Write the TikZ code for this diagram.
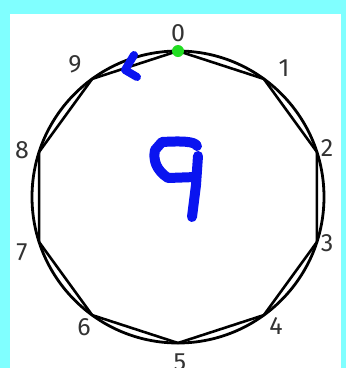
\documentclass[tikz,border=0pt]{standalone}
\usepackage{fontspec}
\setmainfont{Fira Sans}
\usetikzlibrary{calc}
\definecolor{bgcyan}{HTML}{80FFFF}
\definecolor{inkblue}{HTML}{0A14F0}
\definecolor{dotgreen}{HTML}{22DD22}
\definecolor{labgray}{HTML}{333333}
\begin{document}
\begin{tikzpicture}[x=1pt,y=-1pt,
  lab/.style={text=labgray,font=\fontsize{25}{25}\selectfont,inner sep=0pt},
  ink/.style={draw=inkblue,line cap=round,line join=round}]
\fill[bgcyan] (0,0) rectangle (346,368);
\fill[white] (10,14) rectangle (341,368);
\useasboundingbox (0,0) rectangle (346,368);
\coordinate (c) at (178,197);
\draw[line width=2.8pt] (c) circle[radius=146];
\foreach \k in {0,...,9}{
  \coordinate (v\k) at ($(c)+({90-36*\k}:146 and -146)$);
}
\draw[line width=2.6pt,line join=round] (v0)--(v1)--(v2)--(v3)--(v4)--(v5)--(v6)--(v7)--(v8)--(v9)--cycle;
\node[lab] (l0) at (178,33) {0};
\node[lab] (l1) at (284,68) {1};
\node[lab] (l2) at (327,148) {2};
\node[lab] (l3) at (327,243) {3};
\node[lab] (l4) at (276,326) {4};
\node[lab] (l5) at (180,362) {5};
\node[lab] (l6) at (84,327) {6};
\node[lab] (l7) at (22,252) {7};
\node[lab] (l8) at (22,150) {8};
\node[lab] (l9) at (75,64) {9};
\fill[dotgreen] (v0) circle[radius=6];
\draw[ink,line width=8pt] (134,55) -- (125,70) -- (137,77);
\draw[ink,line width=10pt] (197,146) .. controls (195,141) and (180,141) .. (162,142) -- (155,150) .. controls (153,160) and (156,170) .. (168,178) -- (196,177);
\draw[ink,line width=10pt] (198,156) -- (196,185) -- (192,217);
\end{tikzpicture}
\end{document}
